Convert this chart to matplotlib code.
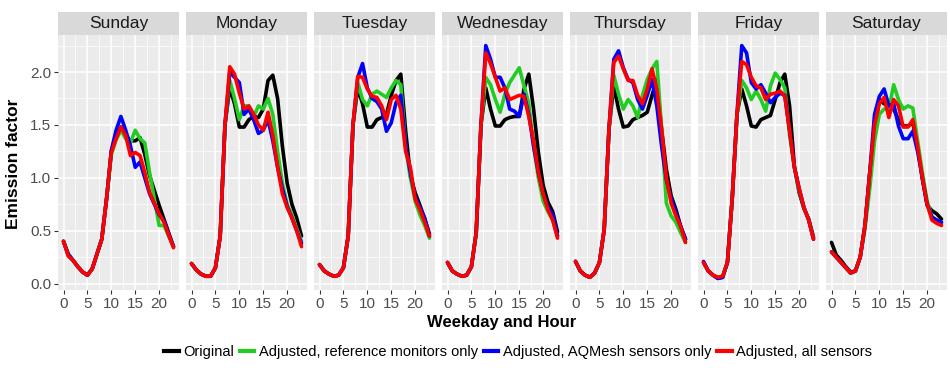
import matplotlib
matplotlib.use("Agg")
import matplotlib.pyplot as plt
import numpy as np
from matplotlib.lines import Line2D

plt.rcParams["font.family"] = ["Liberation Sans", "DejaVu Sans"]

days = ["Sunday", "Monday", "Tuesday", "Wednesday", "Thursday", "Friday", "Saturday"]
hours = list(range(24))

# one row per day, 24 hourly values each
original = [
    [0.40, 0.28, 0.22, 0.16, 0.11, 0.08, 0.14, 0.28, 0.42, 0.80, 1.25, 1.38, 1.48, 1.40, 1.35, 1.35, 1.38, 1.22, 1.02, 0.88, 0.74, 0.61, 0.48, 0.35],
    [0.19, 0.13, 0.09, 0.07, 0.07, 0.15, 0.45, 1.50, 1.85, 1.70, 1.48, 1.48, 1.55, 1.58, 1.57, 1.65, 1.92, 1.97, 1.75, 1.30, 0.95, 0.75, 0.62, 0.45],
    [0.18, 0.12, 0.09, 0.07, 0.08, 0.15, 0.45, 1.50, 1.85, 1.70, 1.48, 1.48, 1.55, 1.57, 1.60, 1.78, 1.92, 1.98, 1.45, 1.02, 0.86, 0.74, 0.61, 0.47],
    [0.20, 0.12, 0.09, 0.07, 0.08, 0.16, 0.48, 1.50, 1.85, 1.65, 1.49, 1.49, 1.55, 1.57, 1.58, 1.58, 1.84, 1.98, 1.65, 1.24, 0.93, 0.77, 0.68, 0.49],
    [0.21, 0.12, 0.08, 0.06, 0.10, 0.20, 0.51, 1.46, 1.87, 1.65, 1.48, 1.49, 1.55, 1.57, 1.59, 1.62, 1.78, 1.93, 1.46, 1.08, 0.83, 0.70, 0.54, 0.42],
    [0.20, 0.12, 0.08, 0.05, 0.06, 0.20, 0.80, 1.60, 1.84, 1.68, 1.49, 1.48, 1.55, 1.57, 1.59, 1.74, 1.90, 1.98, 1.68, 1.11, 0.86, 0.71, 0.61, 0.44],
    [0.39, 0.27, 0.22, 0.16, 0.11, 0.12, 0.25, 0.55, 1.05, 1.45, 1.74, 1.70, 1.68, 1.65, 1.55, 1.49, 1.49, 1.52, 1.30, 0.99, 0.74, 0.69, 0.66, 0.61],
]
ref_only = [
    [0.40, 0.27, 0.22, 0.16, 0.11, 0.08, 0.14, 0.28, 0.42, 0.80, 1.22, 1.36, 1.45, 1.37, 1.33, 1.45, 1.37, 1.33, 1.05, 0.80, 0.55, 0.55, 0.45, 0.35],
    [0.19, 0.13, 0.09, 0.07, 0.07, 0.15, 0.45, 1.50, 1.92, 1.75, 1.55, 1.68, 1.68, 1.58, 1.68, 1.65, 1.75, 1.60, 1.25, 0.95, 0.75, 0.65, 0.52, 0.40],
    [0.18, 0.12, 0.09, 0.07, 0.08, 0.15, 0.45, 1.50, 1.90, 1.74, 1.68, 1.79, 1.82, 1.79, 1.76, 1.85, 1.92, 1.88, 1.30, 1.00, 0.78, 0.65, 0.55, 0.43],
    [0.20, 0.12, 0.09, 0.07, 0.08, 0.16, 0.48, 1.50, 1.95, 1.88, 1.74, 1.62, 1.79, 1.90, 1.97, 2.04, 1.87, 1.70, 1.30, 1.00, 0.78, 0.68, 0.60, 0.45],
    [0.21, 0.12, 0.08, 0.06, 0.10, 0.20, 0.51, 1.46, 1.97, 1.79, 1.65, 1.74, 1.68, 1.57, 1.78, 1.93, 2.03, 2.10, 1.46, 0.76, 0.64, 0.58, 0.48, 0.39],
    [0.20, 0.12, 0.08, 0.06, 0.07, 0.20, 0.80, 1.60, 1.92, 1.85, 1.74, 1.82, 1.74, 1.63, 1.87, 1.99, 1.93, 1.85, 1.40, 1.10, 0.88, 0.72, 0.60, 0.43],
    [0.30, 0.25, 0.20, 0.15, 0.10, 0.12, 0.25, 0.52, 0.90, 1.35, 1.60, 1.65, 1.65, 1.88, 1.74, 1.65, 1.68, 1.66, 1.35, 1.05, 0.78, 0.63, 0.60, 0.57],
]
aqmesh_only = [
    [0.40, 0.27, 0.22, 0.16, 0.11, 0.08, 0.14, 0.28, 0.42, 0.80, 1.26, 1.45, 1.58, 1.45, 1.30, 1.10, 1.15, 1.00, 0.85, 0.75, 0.65, 0.60, 0.46, 0.35],
    [0.19, 0.13, 0.09, 0.07, 0.07, 0.15, 0.45, 1.50, 2.00, 1.95, 1.90, 1.60, 1.65, 1.55, 1.42, 1.45, 1.55, 1.35, 1.10, 0.90, 0.73, 0.62, 0.50, 0.38],
    [0.18, 0.12, 0.09, 0.07, 0.08, 0.15, 0.45, 1.50, 1.95, 2.08, 1.85, 1.75, 1.72, 1.65, 1.44, 1.52, 1.71, 1.78, 1.30, 1.05, 0.82, 0.72, 0.62, 0.45],
    [0.20, 0.12, 0.09, 0.07, 0.08, 0.16, 0.48, 1.50, 2.25, 2.12, 1.95, 1.95, 1.85, 1.65, 1.63, 1.58, 1.79, 1.60, 1.30, 1.05, 0.85, 0.72, 0.65, 0.45],
    [0.21, 0.12, 0.08, 0.06, 0.10, 0.20, 0.51, 1.46, 2.12, 2.20, 2.04, 1.93, 1.90, 1.74, 1.65, 1.78, 1.93, 1.68, 1.30, 0.98, 0.80, 0.67, 0.54, 0.42],
    [0.21, 0.12, 0.08, 0.05, 0.06, 0.20, 0.80, 1.60, 2.25, 2.18, 1.90, 1.84, 1.88, 1.80, 1.71, 1.76, 1.80, 1.78, 1.45, 1.10, 0.90, 0.72, 0.60, 0.42],
    [0.30, 0.25, 0.20, 0.15, 0.10, 0.12, 0.25, 0.55, 1.05, 1.60, 1.77, 1.84, 1.68, 1.70, 1.49, 1.37, 1.37, 1.44, 1.25, 1.00, 0.75, 0.63, 0.60, 0.58],
]
all_sensors = [
    [0.40, 0.26, 0.22, 0.16, 0.11, 0.08, 0.14, 0.28, 0.42, 0.80, 1.24, 1.37, 1.48, 1.40, 1.21, 1.24, 1.21, 1.05, 0.86, 0.76, 0.66, 0.58, 0.46, 0.34],
    [0.19, 0.13, 0.09, 0.07, 0.07, 0.15, 0.45, 1.50, 2.05, 1.98, 1.80, 1.65, 1.68, 1.60, 1.50, 1.45, 1.62, 1.40, 1.10, 0.85, 0.72, 0.62, 0.50, 0.35],
    [0.18, 0.12, 0.09, 0.07, 0.08, 0.15, 0.45, 1.50, 1.96, 1.95, 1.84, 1.77, 1.76, 1.68, 1.55, 1.74, 1.78, 1.65, 1.25, 1.10, 0.80, 0.70, 0.58, 0.45],
    [0.20, 0.12, 0.09, 0.07, 0.08, 0.16, 0.48, 1.50, 2.18, 2.08, 1.95, 1.82, 1.85, 1.74, 1.76, 1.78, 1.77, 1.58, 1.35, 1.05, 0.85, 0.70, 0.60, 0.43],
    [0.21, 0.12, 0.08, 0.06, 0.10, 0.20, 0.51, 1.46, 2.09, 2.15, 2.03, 1.92, 1.92, 1.78, 1.70, 1.84, 2.03, 1.84, 1.46, 1.00, 0.76, 0.64, 0.54, 0.39],
    [0.20, 0.12, 0.08, 0.06, 0.07, 0.20, 0.80, 1.60, 2.10, 2.07, 1.95, 1.87, 1.85, 1.74, 1.79, 1.80, 1.82, 1.77, 1.45, 1.10, 0.90, 0.72, 0.60, 0.42],
    [0.30, 0.25, 0.20, 0.15, 0.10, 0.12, 0.25, 0.55, 1.05, 1.50, 1.70, 1.76, 1.57, 1.74, 1.68, 1.48, 1.48, 1.55, 1.30, 1.00, 0.75, 0.60, 0.57, 0.55],
]

series_names = [
    "Original",
    "Adjusted, reference monitors only",
    "Adjusted, AQMesh sensors only",
    "Adjusted, all sensors",
]
series_data = [original, ref_only, aqmesh_only, all_sensors]
series_colors = ["#000000", "#22cc22", "#0000ff", "#ff0000"]

W, H = 950, 368
fig = plt.figure(figsize=(W / 100, H / 100), dpi=100)

panel_left = 58
panel_w = 121
panel_gap = 7
panel_top = 35
panel_bottom = 290
strip_top = 12

tick_color = "#4d4d4d"

for i, day in enumerate(days):
    x0 = panel_left + i * (panel_w + panel_gap)
    ax = fig.add_axes([x0 / W, (H - panel_bottom) / H, panel_w / W, (panel_bottom - panel_top) / H])
    ax.set_facecolor("#ebebeb")
    for s in ax.spines.values():
        s.set_visible(False)

    ax.set_xlim(-1.15, 24.15)
    ax.set_ylim(-0.06, 2.35)
    ax.set_xticks([0, 5, 10, 15, 20])
    ax.set_xticks([2.5, 7.5, 12.5, 17.5, 22.5], minor=True)
    ax.set_yticks([0.0, 0.5, 1.0, 1.5, 2.0])
    ax.set_yticks([0.25, 0.75, 1.25, 1.75, 2.25], minor=True)
    ax.grid(which="major", color="white", lw=1.1)
    ax.grid(which="minor", color="white", lw=0.5)
    ax.set_axisbelow(True)
    ax.tick_params(which="minor", length=0)
    ax.tick_params(which="major", length=3, width=0.8, color="#333333",
                   labelsize=11, labelcolor=tick_color, pad=2)
    if i == 0:
        ax.set_yticklabels(["0.0", "0.5", "1.0", "1.5", "2.0"])
    else:
        ax.tick_params(axis="y", left=False, labelleft=False)

    for data, color in zip(series_data, series_colors):
        ax.plot(hours, data[i], color=color, lw=2.6, solid_joinstyle="round",
                solid_capstyle="round")

    sax = fig.add_axes([x0 / W, (H - panel_top) / H, panel_w / W, (panel_top - strip_top) / H])
    sax.set_facecolor("#d9d9d9")
    sax.set_xticks([])
    sax.set_yticks([])
    for s in sax.spines.values():
        s.set_visible(False)
    sax.text(0.5, 0.5, day, ha="center", va="center", fontsize=12.5,
             color="#1a1a1a", transform=sax.transAxes)

# axis titles
fig.text(502 / W, 1 - 322 / H, "Weekday and Hour", ha="center", va="center",
         fontsize=12, fontweight="bold")
fig.text(14 / W, 1 - 164 / H, "Emission factor", ha="center", va="center",
         fontsize=12.5, fontweight="bold", rotation=90)

handles = [Line2D([], [], color=c, lw=3) for c in series_colors]
leg = fig.legend(handles, series_names, loc="center", bbox_to_anchor=(518 / W, 1 - 352 / H),
                 ncol=4, frameon=False, fontsize=10.5, handlelength=1.0,
                 handletextpad=0.3, columnspacing=0.4, borderaxespad=0)

fig.savefig("out.png", dpi=100)
